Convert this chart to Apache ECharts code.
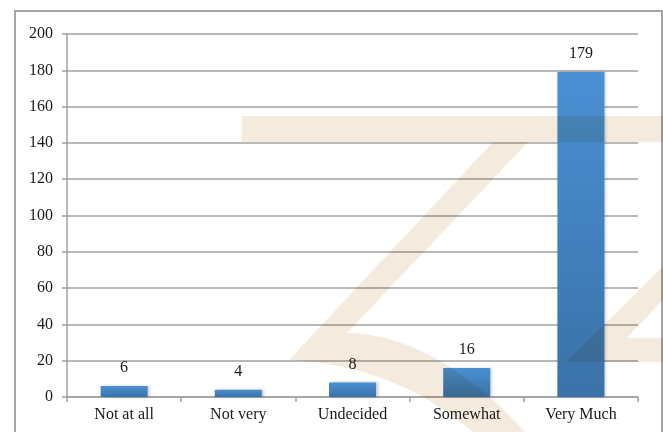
<!DOCTYPE html>
<html>
<head>
<meta charset="utf-8">
<script src="https://cdn.jsdelivr.net/npm/echarts@6/dist/echarts.min.js"></script>
<style>
  html, body { margin: 0; padding: 0; background: #ffffff; }
  #chart { width: 663px; height: 432px; }
</style>
</head>
<body>
<div id="chart"></div>
<script>
// Survey responses per answer
const categories = ['Not at all', 'Not very', 'Undecided', 'Somewhat', 'Very Much'];
const counts = [6, 4, 8, 16, 179];
const yTicks = { min: 0, max: 200, interval: 20 };

const serif = '"Liberation Serif", "Times New Roman", serif';

// Sample a quadratic curve into points for the watermark outline
function quad(p0, c, p1, steps) {
  const pts = [];
  for (let i = 0; i <= steps; i++) {
    const t = i / steps, u = 1 - t;
    pts.push([
      u * u * p0[0] + 2 * u * t * c[0] + t * t * p1[0],
      u * u * p0[1] + 2 * u * t * c[1] + t * t * p1[1]
    ]);
  }
  return pts;
}

const zShape = [].concat(
  [[242, 116], [670, 116], [670, 142], [528, 142]],
  quad([347, 333], [440, 335], [532, 440], 24),
  quad([482, 440], [400, 365], [289, 360], 24),
  [[493, 142], [242, 142]]
);
const zShape2 = [[670, 260], [670, 292], [627, 338], [670, 338], [670, 362], [566, 362]];

const chart = echarts.init(document.getElementById('chart'), null, { renderer: 'canvas' });

chart.setOption({
  backgroundColor: '#ffffff',
  animation: false,
  grid: { left: 67, right: 25, top: 34, bottom: 35 },
  xAxis: {
    type: 'category',
    data: categories,
    boundaryGap: true,
    axisLine: { show: true, lineStyle: { color: '#a0a0a0', width: 1.5 } },
    axisTick: { show: true, length: 5, lineStyle: { color: '#a0a0a0', width: 1.5 } },
    axisLabel: { color: '#1a1a1a', fontFamily: serif, fontSize: 16, margin: 10 },
    splitLine: { show: false }
  },
  yAxis: {
    type: 'value',
    min: yTicks.min,
    max: yTicks.max,
    interval: yTicks.interval,
    axisLine: { show: true, lineStyle: { color: '#a0a0a0', width: 1.5 } },
    axisTick: { show: true, length: 5, lineStyle: { color: '#a0a0a0', width: 1.5 } },
    axisLabel: { color: '#1a1a1a', fontFamily: serif, fontSize: 16, margin: 14 },
    splitLine: { show: true, lineStyle: { color: '#a0a0a0', width: 1.5 } }
  },
  series: [{
    type: 'bar',
    data: counts,
    barWidth: 47,
    itemStyle: {
      color: {
        type: 'linear', x: 0, y: 0, x2: 0, y2: 1,
        colorStops: [
          { offset: 0, color: '#4a90d4' },
          { offset: 1, color: '#3a71a8' }
        ]
      },
      shadowColor: 'rgba(0,0,0,0.22)',
      shadowBlur: 3,
      shadowOffsetX: 2,
      shadowOffsetY: 0
    },
    label: {
      show: true,
      position: 'top',
      distance: 10,
      color: '#1a1a1a',
      fontFamily: serif,
      fontSize: 16
    }
  }],
  graphic: [
    // outer frame
    {
      type: 'rect',
      silent: true,
      z: 100,
      shape: { x: 15, y: 11, width: 647, height: 440 },
      style: { fill: 'none', stroke: '#a4a4a4', lineWidth: 2 }
    },
    // faint letterform watermark laid over the page
    {
      type: 'polygon',
      silent: true,
      z: 200,
      shape: { points: zShape },
      style: { fill: '#f4ebde', blend: 'multiply' }
    },
    {
      type: 'polygon',
      silent: true,
      z: 200,
      shape: { points: zShape2 },
      style: { fill: '#f4ebde', blend: 'multiply' }
    }
  ]
});
</script>
</body>
</html>
